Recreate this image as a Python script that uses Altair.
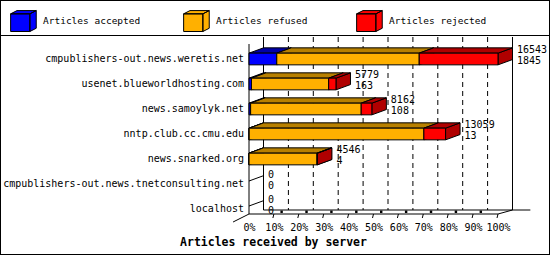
import altair as alt
import pandas as pd

# ---------------- data ----------------
servers = [
    "cmpublishers-out.news.weretis.net",
    "usenet.blueworldhosting.com",
    "news.samoylyk.net",
    "nntp.club.cc.cmu.edu",
    "news.snarked.org",
    "cmpublishers-out.news.tnetconsulting.net",
    "localhost",
]
accepted = [1845, 163, 108, 13, 4, 0, 0]
refused = [9463, 5130, 7346, 11606, 4512, 0, 0]
rejected = [5235, 486, 708, 1440, 30, 0, 0]
series = ["Articles accepted", "Articles refused", "Articles rejected"]
tick_values = [0, 10, 20, 30, 40, 50, 60, 70, 80, 90, 100]
x_title = "Articles received by server"

# ---------------- style / geometry ----------------
front_colors = ["#0000FF", "#FFB000", "#FF0000"]
dark_colors = ["#0000A8", "#B88000", "#B00000"]
MONO = "DejaVu Sans Mono"
W, H = 249, 177
PAD = {"left": 249, "top": 37, "right": 52, "bottom": 41}
Y_DOMAIN = [-0.88, 6.2]
DX = 14.5 / W * 100      # depth offset in percent units
DYR = 0.212              # depth offset in row units
HALF = 0.234             # half bar height in row units
TOP = -0.88
FLOOR = 6.2
FLOOR_BACK = 6.04

XS = alt.Scale(domain=[0, 100], nice=False, zero=False)
YS = alt.Scale(domain=Y_DOMAIN, nice=False, zero=False, reverse=True)
X_AXIS = alt.Axis(
    values=tick_values, labelExpr="datum.value + '%'", domain=False, ticks=False,
    tickSize=0, grid=False, labelPadding=8, labelFont=MONO, labelFontSize=10,
    labelColor="black", labelFlush=False, labelOverlap=False,
    title=x_title, titleFont=MONO, titleFontSize=11.5, titleFontWeight="bold",
    titleColor="black", titleX=24, titleY=28, titleBaseline="middle", titleAlign="center",
)


def X(f):
    return alt.X(f, type="quantitative", scale=XS, axis=X_AXIS)


def Y(f):
    return alt.Y(f, type="quantitative", scale=YS, axis=None)


# ---------------- tables built from the arrays ----------------
totals = [a + b + c for a, b, c in zip(accepted, refused, rejected)]
maxt = max(totals)
rows = pd.DataFrame({
    "server": servers, "r": list(range(len(servers))),
    "total": totals, "accepted": accepted,
    "pct": [t / maxt * 100 for t in totals],
})

fronts, tops, sides = [], [], []
for i in range(len(servers)):
    vals = [accepted[i], refused[i], rejected[i]]
    cum = 0
    for s, v in enumerate(vals):
        x0 = cum / maxt * 100
        cum += v
        x1 = cum / maxt * 100
        if v <= 0:
            continue
        key = f"r{i}s{s}"
        fronts.append({"id": key, "series": series[s], "x0": x0, "x1": x1,
                       "y0": i - HALF, "y1": i + HALF})
        tops.append({"id": key, "series": series[s], "y": i - HALF, "xa": x0, "xb": x1})
        tops.append({"id": key, "series": series[s], "y": i - HALF - DYR,
                     "xa": x0 + DX, "xb": x1 + DX})
        sides.append({"id": key, "series": series[s], "x": x1, "ya": i - HALF, "yb": i + HALF})
        sides.append({"id": key, "series": series[s], "x": x1 + DX,
                      "ya": i - HALF - DYR, "yb": i + HALF - DYR})
fronts = pd.DataFrame(fronts)
tops = pd.DataFrame(tops)
sides = pd.DataFrame(sides)

frame = pd.DataFrame([
    {"xa": 0, "ya": -0.6, "xb": 0, "yb": FLOOR},
    {"xa": DX, "ya": TOP, "xb": DX, "yb": FLOOR_BACK},
    {"xa": 100 + DX, "ya": TOP, "xb": 100 + DX, "yb": FLOOR_BACK},
    {"xa": 0, "ya": FLOOR, "xb": 100, "yb": FLOOR},
    {"xa": DX, "ya": FLOOR_BACK, "xb": 113, "yb": FLOOR_BACK},
    {"xa": 100, "ya": FLOOR, "xb": 100 + DX, "yb": FLOOR_BACK},
    {"xa": -6.4, "ya": 6.52, "xb": 0, "yb": FLOOR},
] + [
    {"xa": 0, "ya": i - 0.12, "xb": DX, "yb": i - 0.12 - DYR} for i in range(len(servers))
] + [
    {"xa": t - 0.4, "ya": FLOOR + 0.16, "xb": t, "yb": FLOOR} for t in tick_values[1:]
])
grid = pd.DataFrame({"x": [t + DX for t in tick_values[1:-1]], "ya": TOP, "yb": FLOOR_BACK})
floor_marks = pd.DataFrame({"x": [t + 3.1 for t in tick_values[1:-1]], "y": 6.11})

CUBE = ("M-0.99,-0.55L0.49,-0.55L0.49,0.81L-0.99,0.81Z"
        "M-0.99,-0.55L-0.5,-0.8L0.98,-0.8L0.49,-0.55Z"
        "M0.49,-0.55L0.98,-0.8L0.98,0.56L0.49,0.81Z")

# ---------------- layers ----------------
border = alt.Chart(rows).mark_rect(fill=None, stroke="black", strokeWidth=1).encode(
    x=alt.value(-248.5), x2=alt.value(300.5), y=alt.value(-36.5), y2=alt.value(217.5))
legend_line = alt.Chart(rows).mark_rule(color="black", strokeWidth=1).encode(
    x=alt.value(-249), x2=alt.value(301), y=alt.value(-1.5))

frame_l = alt.Chart(frame).mark_rule(color="black", strokeWidth=1).encode(
    x=X("xa"), x2="xb", y=Y("ya"), y2="yb")
grid_l = alt.Chart(grid).mark_rule(color="black", strokeWidth=1, strokeDash=[5, 4]).encode(
    x=X("x"), y=Y("ya"), y2="yb")
floor_l = alt.Chart(floor_marks).mark_square(color="black", size=6, opacity=1).encode(
    x=X("x"), y=Y("y"))

side_l = alt.Chart(sides).mark_area(orient="vertical", stroke="black", strokeWidth=1,
                                    opacity=1).encode(
    x=X("x"), y=Y("ya"), y2="yb",
    fill=alt.Fill("series:N", scale=alt.Scale(domain=series, range=dark_colors), legend=None),
    detail="id:N")
top_l = alt.Chart(tops).mark_area(orient="horizontal", stroke="black", strokeWidth=1,
                                  opacity=1).encode(
    y=Y("y"), x=X("xa"), x2="xb",
    fill=alt.Fill("series:N", scale=alt.Scale(domain=series, range=dark_colors), legend=None),
    detail="id:N")
front_l = alt.Chart(fronts).mark_rect(stroke="black", strokeWidth=1, opacity=1).encode(
    x=X("x0"), x2="x1", y=Y("y0"), y2="y1",
    fill=alt.Fill("series:N", scale=alt.Scale(domain=series, range=front_colors),
                  legend=alt.Legend(
                      title=None, orient="none", legendX=-239, legendY=-30,
                      direction="horizontal", columns=3, gridAlign="all",
                      columnPadding=40, symbolType=CUBE, symbolSize=676,
                      symbolStrokeColor="black", symbolStrokeWidth=1,
                      labelFont=MONO, labelFontSize=9.5, labelOffset=6,
                      labelColor="black", padding=0)))

name_l = alt.Chart(rows).mark_text(align="right", baseline="middle", dx=-5, font=MONO,
                                   fontSize=10, color="black").encode(
    x=X("zero:Q"), y=Y("r"), text="server:N").transform_calculate(zero="0")
total_l = alt.Chart(rows).mark_text(align="left", baseline="middle", dx=19, dy=-9,
                                    font=MONO, fontSize=10, color="black").encode(
    x=X("pct"), y=Y("r"), text="total:Q")
acc_l = alt.Chart(rows).mark_text(align="left", baseline="middle", dx=19, dy=2,
                                  font=MONO, fontSize=10, color="black").encode(
    x=X("pct"), y=Y("r"), text="accepted:Q")

chart = alt.layer(
    border, legend_line, grid_l, frame_l, floor_l, side_l, top_l, front_l,
    name_l, total_l, acc_l,
).resolve_scale(fill="independent").properties(
    width=W, height=H, autosize=alt.AutoSizeParams(type="none"), padding=PAD,
    background="white",
).configure_view(stroke=None)

chart.save("out.html", embed_options={"renderer": "svg", "actions": False})
